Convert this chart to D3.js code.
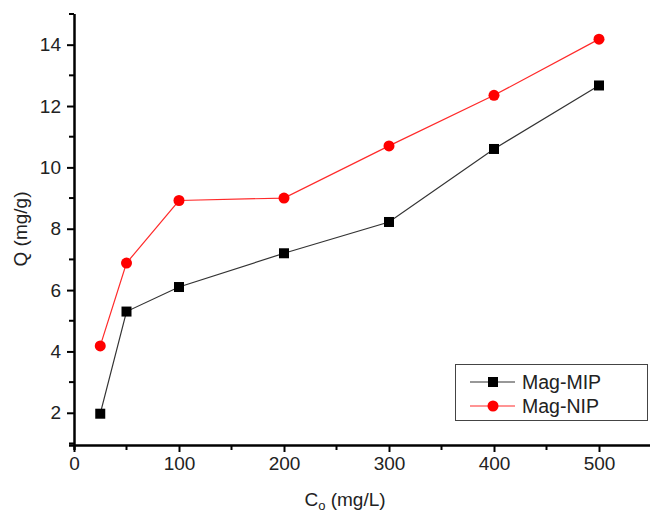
<!DOCTYPE html>
<html><head><meta charset="utf-8">
<script src="https://cdn.jsdelivr.net/npm/d3@7"></script>
<style>body{margin:0;background:#fff}svg{display:block}text{font-family:"Liberation Sans",Arial,sans-serif;fill:#222}</style>
</head><body>
<script>
const concentrations = [25, 50, 100, 200, 300, 400, 500];
const magMIP = [1.97, 5.3, 6.1, 7.2, 8.22, 10.6, 12.67];
const magNIP = [4.18, 6.88, 8.92, 9.0, 10.7, 12.35, 14.18];
const xTicks = [0, 100, 200, 300, 400, 500];
const yTicks = [2, 4, 6, 8, 10, 12, 14];
const seriesNames = ["Mag-MIP", "Mag-NIP"];

const W = 650, H = 513;
const FS = 19;
const svg = d3.select("body").append("svg").attr("width", W).attr("height", H);
const x = d3.scaleLinear().domain([0, 550]).range([74, 651.5]);
const y = d3.scaleLinear().domain([0.95, 15]).range([445, 14]);

// minor ticks
const xMinor = d3.range(50, 551, 100);
const yMinor = d3.range(1, 16, 2);
svg.append("g").selectAll("line").data(xMinor).join("line")
  .attr("x1", d => x(d)).attr("x2", d => x(d)).attr("y1", 445).attr("y2", 450)
  .attr("stroke", "#000").attr("stroke-width", 2);
svg.append("g").selectAll("line").data(yMinor).join("line")
  .attr("x1", 69).attr("x2", 74).attr("y1", d => y(d)).attr("y2", d => y(d))
  .attr("stroke", "#000").attr("stroke-width", 2);

const xAxis = svg.append("g").attr("transform", "translate(0,445)")
  .call(d3.axisBottom(x).tickValues(xTicks).tickSize(7).tickPadding(5).tickSizeOuter(0));
const yAxis = svg.append("g").attr("transform", "translate(74,0)")
  .call(d3.axisLeft(y).tickValues(yTicks).tickSize(7).tickPadding(6).tickSizeOuter(0));
[xAxis, yAxis].forEach(a => {
  a.select(".domain").attr("stroke", "#000").attr("stroke-width", 2.5);
  a.selectAll(".tick line").attr("stroke", "#000").attr("stroke-width", 2);
  a.selectAll(".tick text").attr("font-size", FS).attr("fill", "#222")
    .style("font-family", '"Liberation Sans",Arial,sans-serif');
});
xAxis.select(".domain").attr("d", "M69,0.5H650");
yAxis.select(".domain").attr("d", "M0.5,14V450");

// labels
const xl = svg.append("text").attr("x", 345).attr("y", 506).attr("text-anchor", "middle").attr("font-size", FS);
xl.append("tspan").text("C");
xl.append("tspan").attr("font-size", 13).attr("dy", 4).text("o");
xl.append("tspan").attr("dy", -4).text(" (mg/L)");
svg.append("text").attr("transform", "translate(27,229) rotate(-90)").attr("text-anchor", "middle")
  .attr("font-size", FS).text("Q (mg/g)");

const line = d3.line().x((d, i) => x(concentrations[i])).y(d => y(d));
svg.append("path").datum(magMIP).attr("d", line).attr("fill", "none").attr("stroke", "#333").attr("stroke-width", 1.2);
svg.append("path").datum(magNIP).attr("d", line).attr("fill", "none").attr("stroke", "#ff2a2a").attr("stroke-width", 1.2);
svg.append("g").selectAll("rect").data(magMIP).join("rect")
  .attr("x", (d, i) => x(concentrations[i]) - 5).attr("y", d => y(d) - 5)
  .attr("width", 10).attr("height", 10).attr("fill", "#000");
svg.append("g").selectAll("circle").data(magNIP).join("circle")
  .attr("cx", (d, i) => x(concentrations[i])).attr("cy", d => y(d)).attr("r", 5.5).attr("fill", "#ff0000");

// legend
const lg = svg.append("g");
lg.append("rect").attr("x", 455.5).attr("y", 364.5).attr("width", 192).attr("height", 56)
  .attr("fill", "#fff").attr("stroke", "#444").attr("stroke-width", 1);
seriesNames.forEach((n, i) => {
  const cy = 382 + i * 24;
  lg.append("line").attr("x1", 470).attr("x2", 515).attr("y1", cy).attr("y2", cy)
    .attr("stroke", i === 0 ? "#333" : "#ff2a2a").attr("stroke-width", 1.2);
  if (i === 0) lg.append("rect").attr("x", 488).attr("y", cy - 5).attr("width", 10).attr("height", 10).attr("fill", "#000");
  else lg.append("circle").attr("cx", 493).attr("cy", cy).attr("r", 5.5).attr("fill", "#ff0000");
  lg.append("text").attr("x", 522).attr("y", cy + 6.5).attr("font-size", FS + 0.5).text(n);
});
</script>
</body></html>
